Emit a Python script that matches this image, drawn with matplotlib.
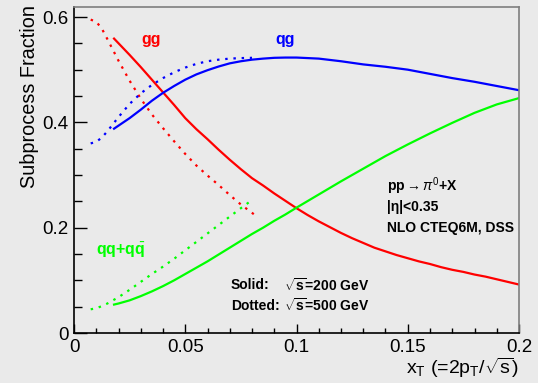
import numpy as np
import matplotlib
matplotlib.use("Agg")
import matplotlib.pyplot as plt
from matplotlib.ticker import MultipleLocator, FuncFormatter

plt.rcParams["font.family"] = ["Liberation Sans", "DejaVu Sans"]
plt.rcParams["mathtext.fontset"] = "custom"
plt.rcParams["mathtext.rm"] = "Liberation Sans"
plt.rcParams["mathtext.it"] = "Liberation Sans:italic"
plt.rcParams["mathtext.bf"] = "Liberation Sans:bold"

# === DATA: subprocess fractions vs x_T ===
# sqrt(s) = 200 GeV (solid)
gg_200_x = [0.018, 0.025, 0.030, 0.035, 0.040, 0.045, 0.050, 0.055, 0.060, 0.065, 0.070, 0.075, 0.080,
            0.085, 0.090, 0.095, 0.100, 0.105, 0.110, 0.115, 0.120, 0.125, 0.130, 0.135, 0.140, 0.145,
            0.150, 0.155, 0.160, 0.165, 0.170, 0.175, 0.180, 0.185, 0.190, 0.195, 0.200]
gg_200_y = [0.559, 0.528, 0.505, 0.481, 0.457, 0.433, 0.408, 0.387, 0.368, 0.348, 0.329, 0.311, 0.294,
            0.280, 0.265, 0.251, 0.237, 0.224, 0.212, 0.201, 0.190, 0.180, 0.171, 0.162, 0.155, 0.148,
            0.142, 0.136, 0.131, 0.125, 0.120, 0.116, 0.111, 0.107, 0.102, 0.097, 0.092]
qg_200_x = [0.018, 0.025, 0.030, 0.035, 0.040, 0.045, 0.050, 0.055, 0.060, 0.065, 0.070, 0.075, 0.080,
            0.085, 0.090, 0.095, 0.100, 0.110, 0.120, 0.130, 0.140, 0.150, 0.160, 0.170, 0.180, 0.190, 0.200]
qg_200_y = [0.388, 0.408, 0.424, 0.441, 0.456, 0.469, 0.481, 0.491, 0.499, 0.506, 0.512, 0.516, 0.519,
            0.521, 0.5225, 0.523, 0.523, 0.521, 0.516, 0.510, 0.5055, 0.500, 0.492, 0.484, 0.477, 0.469, 0.461]
qq_200_x = [0.018, 0.020, 0.025, 0.030, 0.035, 0.040, 0.045, 0.050, 0.055, 0.060, 0.065, 0.070, 0.075,
            0.080, 0.085, 0.090, 0.095, 0.100, 0.110, 0.120, 0.130, 0.140, 0.150, 0.160, 0.170, 0.180,
            0.190, 0.200]
qq_200_y = [0.054, 0.056, 0.062, 0.070, 0.079, 0.089, 0.100, 0.112, 0.124, 0.136, 0.149, 0.162, 0.175,
            0.188, 0.200, 0.213, 0.225, 0.238, 0.263, 0.288, 0.312, 0.336, 0.358, 0.379, 0.399, 0.418,
            0.434, 0.446]

# sqrt(s) = 500 GeV (dotted)
gg_500_x = [0.0075, 0.010, 0.0125, 0.015, 0.020, 0.025, 0.030, 0.035, 0.040, 0.045, 0.050, 0.055,
            0.060, 0.065, 0.070, 0.075, 0.081]
gg_500_y = [0.595, 0.591, 0.578, 0.558, 0.517, 0.479, 0.445, 0.415, 0.389, 0.364, 0.340, 0.318,
            0.299, 0.281, 0.262, 0.244, 0.225]
qg_500_x = [0.0075, 0.010, 0.0125, 0.015, 0.020, 0.025, 0.030, 0.035, 0.040, 0.045, 0.050, 0.055,
            0.060, 0.065, 0.070, 0.075, 0.080]
qg_500_y = [0.360, 0.363, 0.371, 0.383, 0.410, 0.435, 0.455, 0.471, 0.484, 0.495, 0.504, 0.511,
            0.516, 0.519, 0.521, 0.522, 0.5225]
qq_500_x = [0.0075, 0.010, 0.0125, 0.015, 0.020, 0.025, 0.030, 0.035, 0.040, 0.045, 0.050, 0.055,
            0.060, 0.065, 0.070, 0.075, 0.0805]
qq_500_y = [0.045, 0.047, 0.051, 0.056, 0.068, 0.082, 0.097, 0.112, 0.126, 0.141, 0.157, 0.173,
            0.189, 0.205, 0.221, 0.237, 0.254]

BG = "#eaeaea"
RED, BLUE, GREEN = "#ff0000", "#0000ff", "#00ff00"
LW = 1.6
DOT = (0, (1.1, 2.6))

fig = plt.figure(figsize=(5.38, 3.83), dpi=100, facecolor=BG)
ax = fig.add_axes([74 / 538, 50 / 383, 445 / 538, 326 / 383], facecolor=BG)

ax.plot(gg_200_x, gg_200_y, color=RED, lw=LW)
ax.plot(qg_200_x, qg_200_y, color=BLUE, lw=LW)
ax.plot(qq_200_x, qq_200_y, color=GREEN, lw=LW)
ax.plot(gg_500_x, gg_500_y, color=RED, lw=LW, ls=DOT)
ax.plot(qg_500_x, qg_500_y, color=BLUE, lw=LW, ls=DOT)
ax.plot(qq_500_x, qq_500_y, color=GREEN, lw=LW, ls=DOT)

ax.set_xlim(0, 0.2)
ax.set_ylim(0, 0.619)

# ROOT-like axes: inward ticks on left/bottom only
ax.xaxis.set_major_locator(MultipleLocator(0.05))
ax.xaxis.set_minor_locator(MultipleLocator(0.01))
ax.yaxis.set_major_locator(MultipleLocator(0.2))
ax.yaxis.set_minor_locator(MultipleLocator(0.05))
ax.xaxis.set_major_formatter(FuncFormatter(lambda v, p: f"{v:g}"))
ax.yaxis.set_major_formatter(FuncFormatter(lambda v, p: f"{v:g}"))
ax.tick_params(axis="x", which="major", direction="in", length=6.5, width=1, labelsize=13.5, pad=4)
ax.tick_params(axis="x", which="minor", direction="in", length=3.3, width=1)
ax.tick_params(axis="y", which="major", direction="in", length=9.5, width=1, labelsize=13.5, pad=4)
ax.tick_params(axis="y", which="minor", direction="in", length=5.5, width=1)
for s in ("left", "bottom"):
    ax.spines[s].set_color("black")
    ax.spines[s].set_linewidth(1.2)
for s in ("top", "right"):
    ax.spines[s].set_color("#7f7f7f")
    ax.spines[s].set_linewidth(1.2)

# axis titles
fig.text(30 / 538, 1 - 5 / 383, "Subprocess Fraction", rotation=90, ha="center", va="top", fontsize=14.3)
fig.text(519 / 538, 1 - 368 / 383, r"x$_\mathregular{T}$ (=2p$_\mathregular{T}$/$\sqrt{\mathregular{s}}$)",
         ha="right", va="center", fontsize=14)

# curve labels
ax.text(0.0345, 0.557, "gg", color=RED, fontsize=11.5, fontweight="bold", ha="center", va="center")
ax.text(0.0948, 0.557, "qg", color=BLUE, fontsize=11.5, fontweight="bold", ha="center", va="center")
ax.text(0.0212, 0.157, r"qq+q$\bar{\mathbf{q}}$", color=GREEN, fontsize=11.5, fontweight="bold",
        ha="center", va="center")

# process info
ax.text(0.1406, 0.278, r"pp$\rightarrow\pi^{0}$+X", fontsize=10, fontweight="bold", ha="left", va="center")
ax.text(0.1406, 0.240, "|η|<0.35", fontsize=10, fontweight="bold", ha="left", va="center")
ax.text(0.1406, 0.200, "NLO CTEQ6M, DSS", fontsize=10, fontweight="bold", ha="left", va="center")

# energy legend
ax.text(0.0704, 0.091, "Solid:", fontsize=10, fontweight="bold", ha="left", va="center")
ax.text(0.0944, 0.091, r"$\sqrt{\mathbf{s}}$=200 GeV", fontsize=10, fontweight="bold", ha="left", va="center")
ax.text(0.0704, 0.052, "Dotted:", fontsize=10, fontweight="bold", ha="left", va="center")
ax.text(0.0944, 0.052, r"$\sqrt{\mathbf{s}}$=500 GeV", fontsize=10, fontweight="bold", ha="left", va="center")

fig.savefig("out.png", dpi=100, facecolor=BG)
